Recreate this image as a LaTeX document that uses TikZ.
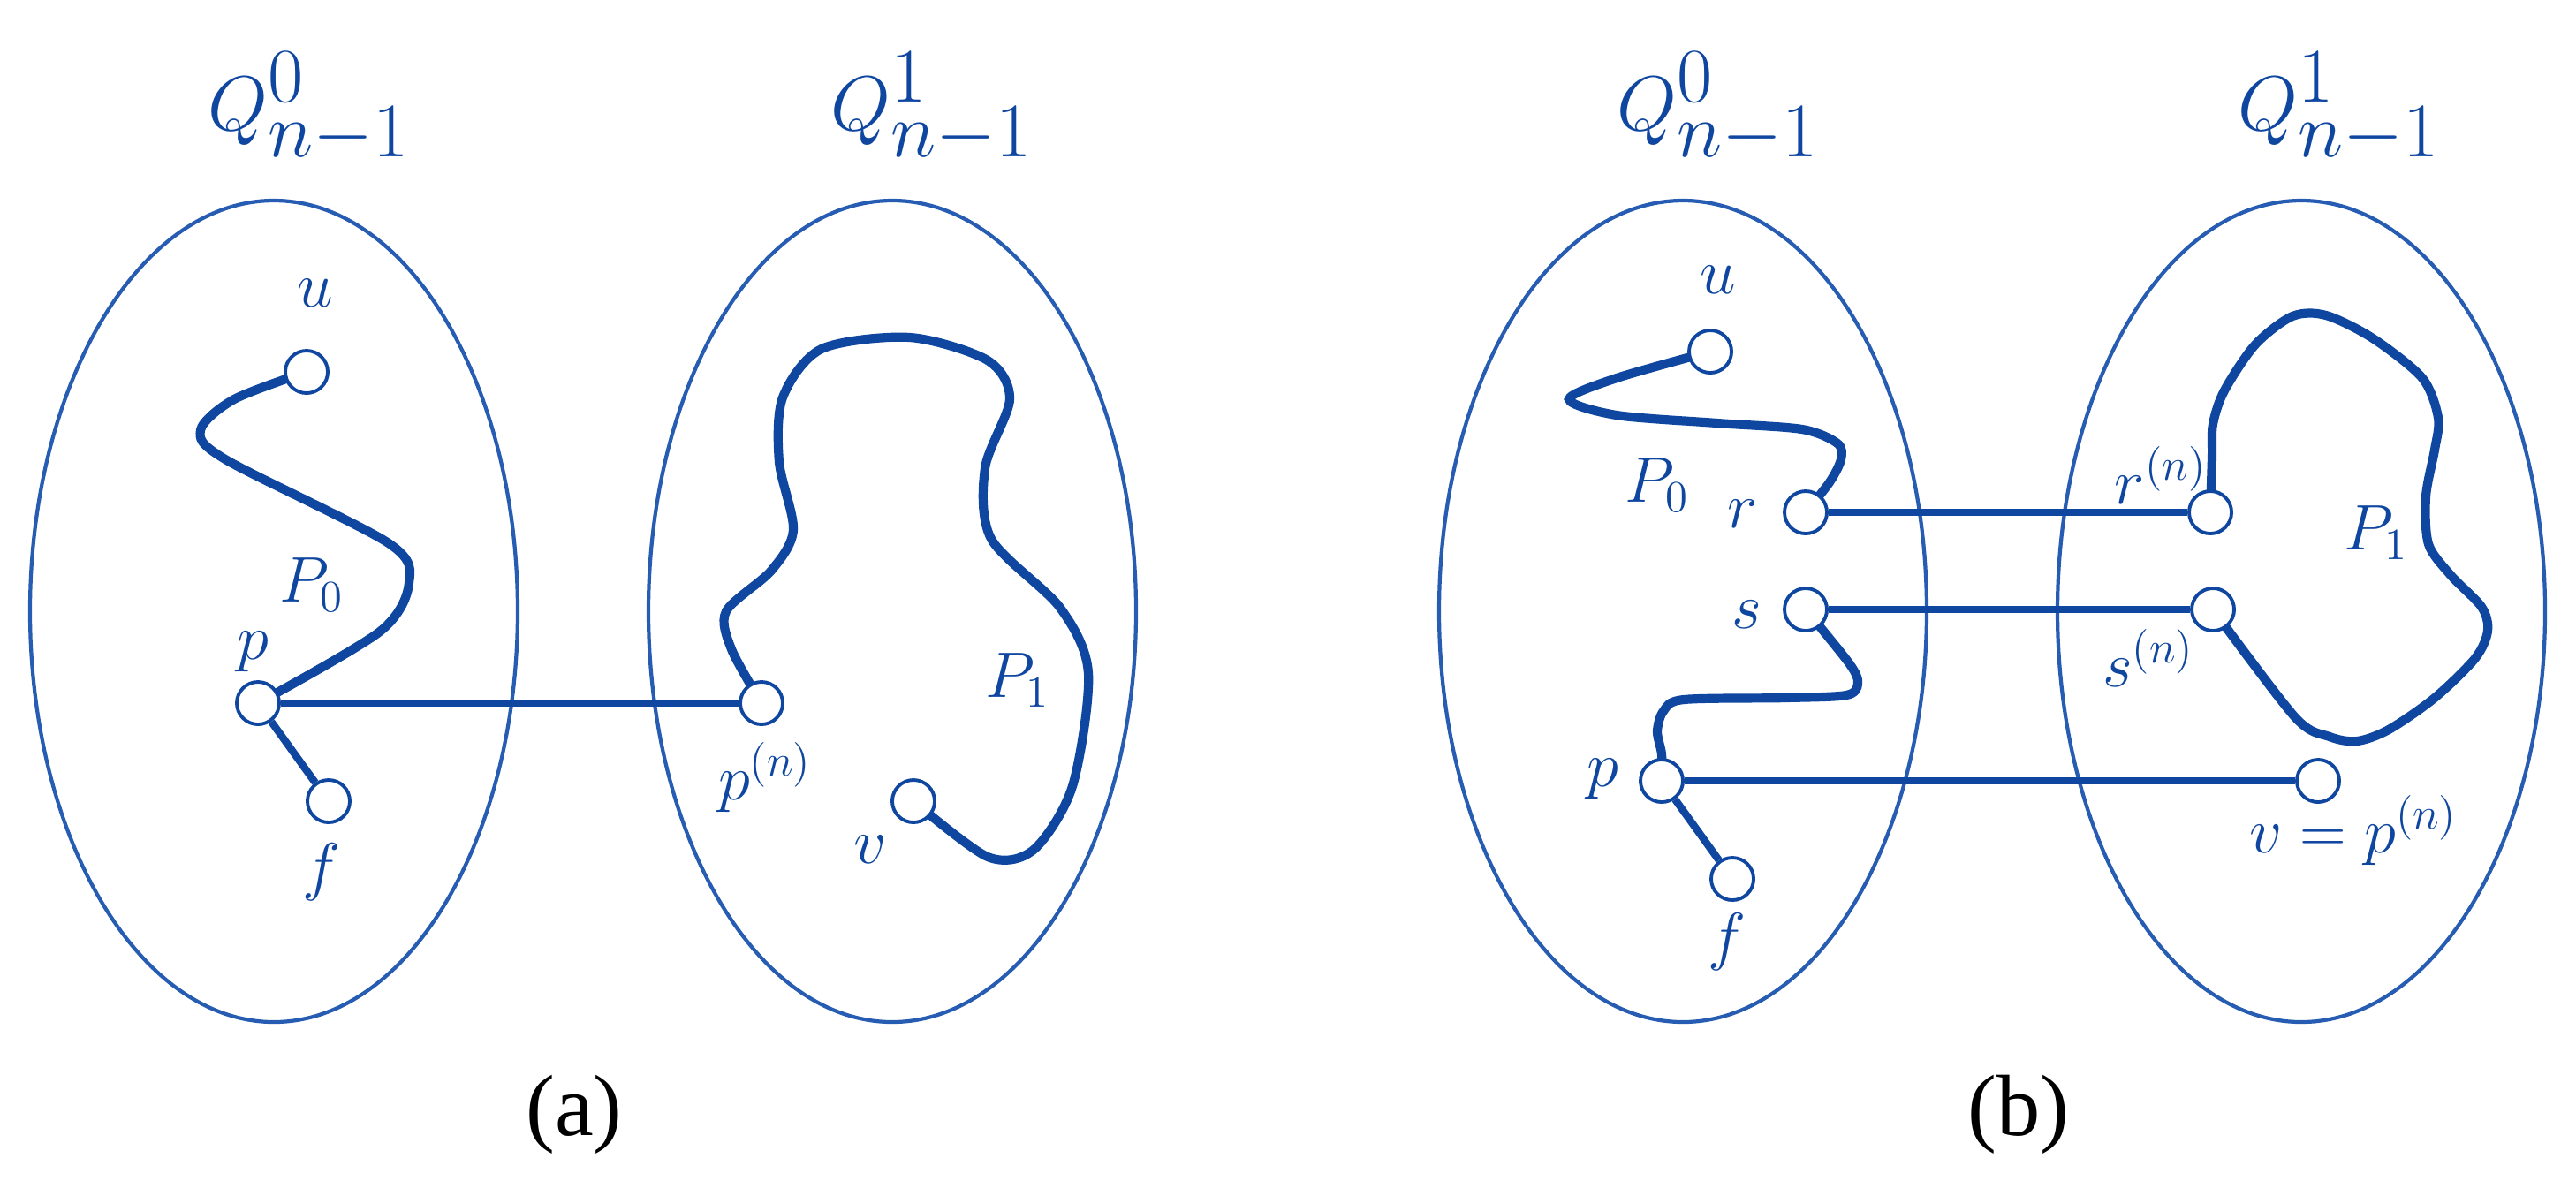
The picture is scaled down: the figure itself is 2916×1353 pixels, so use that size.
\documentclass[tikz,border=0pt]{standalone}
\usepackage{fontspec}
\setmainfont{Liberation Serif}
\usetikzlibrary{backgrounds,positioning}
\definecolor{graphblue}{RGB}{14,70,160}
\definecolor{rimblue}{RGB}{38,92,178}
\tikzset{
	vertex/.style = {circle, draw=graphblue, fill=white, line width=1.1pt, minimum size=0.48cm, inner sep=0pt},
	part/.style = {draw=rimblue, line width=1.2pt},
	route/.style = {draw=graphblue, line width=2.9pt, line cap=round},
	link/.style = {draw=graphblue, line width=2.4pt},
	lbl/.style = {text=graphblue, font=\fontsize{20}{23}\selectfont, inner sep=0pt},
	cube/.style = {text=graphblue, font=\fontsize{37}{40}\selectfont, inner sep=0pt},
	caption/.style = {font=\fontsize{28}{32}\selectfont, inner sep=0pt}
}

\begin{document}
\begin{tikzpicture}[x=0.01cm, y=-0.01cm]
	\useasboundingbox (0,0) rectangle (2916,1353);
	
	% subcube titles and captions
	\foreach \cx/\nm/\k in {350/a0/0, 1055/a1/1, 1945/b0/0, 2648/b1/1}
	\node[cube] (q\nm) at (\cx,122) {$Q^{\k}_{n-1}$};
	\node[caption] (capa) at (650,1262) {(a)};
	\node[caption] (capb) at (2285,1262) {(b)};
	
	% (a) vertices
	\node[vertex] (ua) at (347,421) {};
	\node[vertex] (pa) at (292,796) {};
	\node[vertex] (fa) at (372,907) {};
	\node[vertex] (pna) at (862,796) {};
	\node[vertex] (va) at (1034,907) {};
	
	% (b) vertices
	\node[vertex] (ub) at (1936,398) {};
	\node[vertex] (rb) at (2044,580) {};
	\node[vertex] (sb) at (2044,690) {};
	\node[vertex] (pb) at (1881,884) {};
	\node[vertex] (fb) at (1961,995) {};
	\node[vertex] (rnb) at (2502,580) {};
	\node[vertex] (snb) at (2505,690) {};
	\node[vertex] (vb) at (2624,884) {};
	
	% labels
	\begin{scope}[every node/.style={lbl}]
		\node (lua) at (357,332) {$u$};
		\node (lpa) at (286,738) {$p$};
		\node (lfa) at (364,987) {$f$};
		\node (lP0a) at (353,662) {$P_0$};
		\node (lpna) at (866,880) {$p^{(n)}$};
		\node (lva) at (985,962) {$v$};
		\node (lP1a) at (1152,770) {$P_1$};
		
		\node (lub) at (1945,317) {$u$};
		\node (lrb) at (1973,582) {$r$};
		\node (lsb) at (1977,696) {$s$};
		\node (lpb) at (1814,882) {$p$};
		\node (lfb) at (1955,1066) {$f$};
		\node (lP0b) at (1876,549) {$P_0$};
		\node (lrnb) at (2446,538) {$r^{(n)}$};
		\node (lsnb) at (2432,745) {$s^{(n)}$};
		\node (lvb) at (2664,940) {$v=p^{(n)}$};
		\node (lP1b) at (2690,603) {$P_1$};
	\end{scope}
	
	\begin{scope}[on background layer]
		% the four subcubes
		\foreach \cx in {310,1010,1905,2605}
		\draw[part] (\cx,692) ellipse [x radius=276, y radius=465];
		
		% (a) paths
		\draw[route] plot[smooth] coordinates {(ua) (265,452) (227,487) (255,520) (440,615) (463,660) (430,715) (pa)};
		\draw[route] plot[smooth] coordinates {(pna) (828,735) (822,692) (873,646) (898,600) (882,523) (886,450) (930,395) (1030,382) (1118,408) (1143,452) (1115,530) (1122,610) (1200,688) (1232,762) (1214,890) (1170,962) (1118,970) (va)};
		\draw[link] (pa) -- (fa);
		\draw[link] (pa) -- (pna);
		
		% (b) paths
		\draw[route] plot[smooth] coordinates {(ub) (1830,428) (1776,452) (1830,470) (1944,479) (2040,486) (2080,502) (2084,520) (2071,546) (rb)};
		\draw[route] plot[smooth] coordinates {(sb) (2094,752) (2103,774) (2090,787) (2021,790) (1906,792) (1883,805) (1876,828) (1881,854) (pb)};
		\draw[route] plot[smooth] coordinates {(rnb) (2504,517) (2505,480) (2518,442) (2553,390) (2595,358) (2633,357) (2686,383) (2742,428) (2760,473) (2756,509) (2746,562) (2749,616) (2774,651) (2809,687) (2816,714) (2802,745) (2756,790) (2704,826) (2668,839) (2637,834) (2598,812) (snb)};
		\draw[link] (pb) -- (fb);
		\foreach \a/\b in {rb/rnb, sb/snb, pb/vb}
		\draw[link] (\a) -- (\b);
	\end{scope}
\end{tikzpicture}
\end{document}
